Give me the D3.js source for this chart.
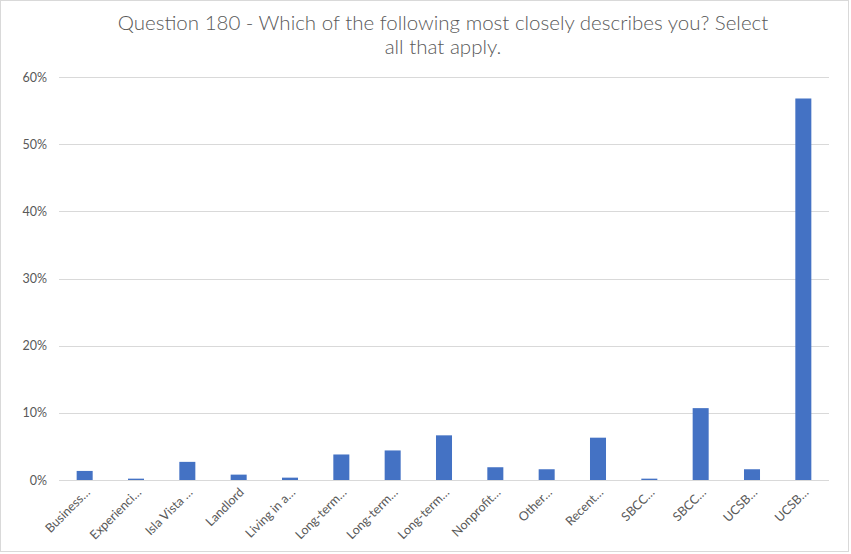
<!DOCTYPE html>
<html><head><meta charset="utf-8">
<script src="https://cdn.jsdelivr.net/npm/d3@7"></script>
<style>body{margin:0;background:#fff}svg{display:block}</style>
</head><body>
<script>
const categories = ["Business…","Experienci…","Isla Vista …","Landlord","Living in a…","Long-term…","Long-term…","Long-term…","Nonprofit…","Other…","Recent…","SBCC…","SBCC…","UCSB…","UCSB…"];
const values = [1.35, 0.2, 2.7, 0.8, 0.35, 3.8, 4.4, 6.65, 1.9, 1.6, 6.3, 0.2, 10.7, 1.6, 56.8];
const yTicks = [0, 10, 20, 30, 40, 50, 60];
const titleLines = ["Question 180 - Which of the following most closely describes you? Select", "all that apply."];

const W = 851, H = 554;
const m = {left: 59, right: 22, top: 77, bottom: 74};
const svg = d3.select("body").append("svg").attr("width", W).attr("height", H);
svg.append("rect").attr("x", 0.5).attr("y", 0.5).attr("width", W - 3).attr("height", H - 3)
  .attr("fill", "#fff").attr("stroke", "#d9d9d9");

const x = d3.scaleBand().domain(d3.range(categories.length)).range([m.left, W - m.right]).paddingInner(0.688).paddingOuter(0.344);
const y = d3.scaleLinear().domain([0, 60]).range([H - m.bottom, m.top]);

const font = "Lato, 'Open Sans', sans-serif";
const g = svg.append("g");
g.selectAll("line.grid").data(yTicks).join("line")
  .attr("x1", m.left).attr("x2", W - m.right)
  .attr("y1", d => Math.round(y(d)) + 0.5).attr("y2", d => Math.round(y(d)) + 0.5)
  .attr("stroke", "#d9d9d9").attr("stroke-width", 1);
g.selectAll("text.yl").data(yTicks).join("text")
  .attr("x", 47).attr("y", d => y(d) + 4.5).attr("text-anchor", "end")
  .attr("font-family", font).attr("font-size", 12.5).attr("fill", "#595959")
  .text(d => d + "%");

g.selectAll("rect.bar").data(values).join("rect")
  .attr("x", (d, i) => x(i)).attr("width", x.bandwidth())
  .attr("y", d => y(d)).attr("height", d => y(0) - y(d))
  .attr("fill", "#4472C4");

g.selectAll("text.xl").data(categories).join("text")
  .attr("transform", (d, i) => `translate(${x(i) + x.bandwidth() / 2 + 3},${y(0) + 10}) rotate(-45)`)
  .attr("text-anchor", "end").attr("dy", "0.35em")
  .attr("font-family", font).attr("font-size", 12.5).attr("fill", "#595959")
  .text(d => d);

svg.selectAll("text.title").data(titleLines).join("text")
  .attr("x", 443).attr("y", (d, i) => 30 + i * 24).attr("text-anchor", "middle")
  .attr("font-family", font).attr("font-size", 20.5).attr("font-weight", 300).attr("fill", "#595959")
  .text(d => d);
</script>
</body></html>
